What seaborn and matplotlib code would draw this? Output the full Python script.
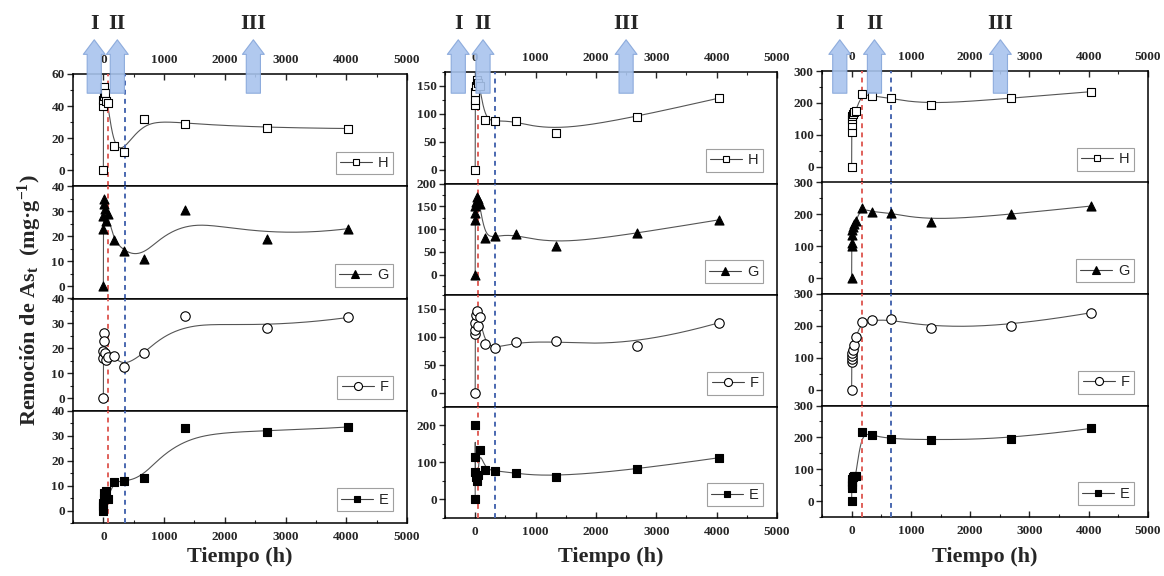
import numpy as np
import matplotlib
matplotlib.use("Agg")
import matplotlib.pyplot as plt
import matplotlib.transforms as mtransforms
from matplotlib.patches import FancyArrowPatch, ArrowStyle
from matplotlib.lines import Line2D
from matplotlib.ticker import MultipleLocator
import seaborn as sns

# ---------------- data ----------------
tiempo_h = [0, 1, 2, 4, 8, 24, 48, 72, 168, 336, 672, 1344, 2688, 4032]

# column 1
H1 = [0, 40, 44, 46, 52, 48, 43, 42, 15, 11.5, 32, 29, 26.5, 26]
G1 = [0, 23, 28, 35, 33, 31, 26, 29, 18.5, 14, 11, 30.5, 19, 23]
F1 = [0, 16, 19, 26, 23, 18, 15.5, 16.5, 17, 12.7, 18, 32.8, 28, 32.4]
E1 = [0, 2, 3, 5, 7, 6, 8, 4.5, 11.6, 11.8, 13.2, 33, 31.5, 33.5]
# column 2
H2 = [0, 115, 125, 140, 150, 160, 155, 150, 88.5, 87, 87, 66, 95, 128]
G2 = [0, 120, 135, 150, 160, 170, 165, 155, 81, 84, 89, 63, 91, 120]
F2 = [0, 105, 112, 125, 140, 146, 120, 135, 87, 79.5, 90, 92, 84, 125]
E2 = [0, 200, 115, 75, 60, 50, 65, 132, 80, 77, 70, 60, 81, 112]
# column 3
H3 = [0, 110, 130, 150, 160, 165, 172, 175, 228, 222, 214, 192, 215, 235]
G3 = [0, 100, 110, 135, 150, 160, 170, 180, 221, 207, 205, 177, 200, 226]
F3 = [0, 85, 95, 105, 115, 125, 140, 166, 211, 217, 220, 194, 199, 241]
E3 = [0, 40, 50, 60, 70, 75, 78, 80, 218, 206, 195, 192, 195, 228]

series_labels = ["H", "G", "F", "E"]
columns_data = [[H1, G1, F1, E1], [H2, G2, F2, E2], [H3, G3, F3, E3]]

# phase boundaries (h): red = end of stage I, blue = end of stage II
red_line_h = [72, 48, 168]
blue_line_h = [360, 336, 672]
# stage arrows (x in h)
stage_labels = ["I", "II", "III"]
stage_arrow_h = [[-150, 230, 2470], [-280, 130, 2500], [-200, 385, 2510]]

# ---------------- styling / layout ----------------
sns.set_style("ticks")
plt.rcParams["font.family"] = ["Liberation Serif", "DejaVu Serif"]
plt.rcParams["mathtext.fontset"] = "custom"
plt.rcParams["mathtext.rm"] = "Liberation Serif:bold"
plt.rcParams["mathtext.bf"] = "Liberation Serif:bold"
plt.rcParams["mathtext.it"] = "Liberation Serif:bold"

W, Hpx = 1164, 576
fig = plt.figure(figsize=(W / 100, Hpx / 100), dpi=100)
fig.patch.set_facecolor("white")

col_px = [(73, 334, 74, 523), (445, 332, 72, 518), (822, 326, 71, 517)]
ylims = [
    [(-10, 60, 20, 10), (-5, 40, 10, 5), (-5, 40, 10, 5), (-5, 40, 10, 5)],
    [(-25, 175, 50, 25), (-45, 200, 50, 25), (-25, 175, 50, 25), (-50, 250, 100, 50)],
    [(-50, 300, 100, 50), (-50, 300, 100, 50), (-50, 300, 100, 50), (-50, 300, 100, 50)],
]
marker_styles = [
    dict(marker="s", face="white", ms=5.5),
    dict(marker="^", face="black", ms=6.5),
    dict(marker="o", face="white", ms=6.8),
    dict(marker="s", face="black", ms=5.5),
]


def bspline(px, py, k=3, n=600):
    P = np.column_stack([px, py]).astype(float)
    N = len(P)
    inner = np.linspace(0, 1, N - k + 1)
    knots = np.concatenate([[0] * k, inner, [1] * k])
    u = np.linspace(0, 1, n)
    u[-1] -= 1e-9
    B = np.zeros((n, len(knots) - 1))
    for i in range(len(knots) - 1):
        B[:, i] = (knots[i] <= u) & (u < knots[i + 1])
    for d in range(1, k + 1):
        Bn = np.zeros((n, len(knots) - 1 - d))
        for i in range(len(knots) - 1 - d):
            a = knots[i + d] - knots[i]
            b = knots[i + d + 1] - knots[i + 1]
            term = np.zeros(n)
            if a > 0:
                term += (u - knots[i]) / a * B[:, i]
            if b > 0:
                term += (knots[i + d + 1] - u) / b * B[:, i + 1]
            Bn[:, i] = term
        B = Bn
    C = B @ P
    return C[:, 0], C[:, 1]


for c, (left, width, top, bottom) in enumerate(col_px):
    ph = (bottom - top) / 4.0
    axes = []
    for p in range(4):
        y_top = top + p * ph
        ax = fig.add_axes([left / W, 1 - (y_top + ph) / Hpx, width / W, ph / Hpx])
        axes.append(ax)
        vals = columns_data[c][p]
        ms = marker_styles[p]
        cx, cy = bspline(tiempo_h, vals)
        ax.plot(cx, cy, color="#555555", lw=0.8, zorder=2)
        sns.scatterplot(x=tiempo_h, y=vals, ax=ax, marker=ms["marker"], s=ms["ms"] ** 2 * 1.0,
                        color=ms["face"], edgecolor="black", linewidth=0.8, zorder=4, legend=False)
        ax.axvline(red_line_h[c], color="#e0605a", lw=1.4, ls=(0, (2.5, 2.2)), zorder=3)
        ax.axvline(blue_line_h[c], color="#4a68b0", lw=1.4, ls=(0, (2.5, 2.2)), zorder=3)
        ax.set_xlim(-500, 5000)
        lo, hi, maj, mnr = ylims[c][p]
        ax.set_ylim(lo, hi)
        ax.yaxis.set_major_locator(MultipleLocator(maj))
        ax.yaxis.set_minor_locator(MultipleLocator(mnr))
        ax.xaxis.set_major_locator(MultipleLocator(1000))
        ax.xaxis.set_minor_locator(MultipleLocator(500))
        ax.tick_params(axis="y", which="major", direction="out", length=4, width=1, pad=2)
        ax.tick_params(axis="y", which="minor", direction="out", length=2.5, width=0.8)
        if p == 0:
            ax.tick_params(axis="x", which="both", top=True, bottom=False, labeltop=True,
                           labelbottom=False, direction="in")
        elif p == 3:
            ax.tick_params(axis="x", which="both", top=False, bottom=True, labeltop=False,
                           labelbottom=True, direction="in")
        else:
            ax.tick_params(axis="x", which="both", top=False, bottom=False, labeltop=False,
                           labelbottom=False)
        ax.tick_params(axis="x", which="major", length=4, width=1, pad=6)
        ax.tick_params(axis="x", which="minor", length=2.5, width=0.8)
        for lab in ax.get_xticklabels() + ax.get_yticklabels():
            lab.set_fontfamily("Liberation Serif")
            lab.set_fontweight("bold")
            lab.set_fontsize(9.5)
        for s in ax.spines.values():
            s.set_linewidth(1.1)
            s.set_color("black")
        ax.set_xlabel("")
        ax.set_ylabel("")
        ax.set_facecolor("white")
        handle = Line2D([], [], color="#444444", lw=0.8, marker=ms["marker"], markersize=ms["ms"] * 0.85,
                        markerfacecolor=ms["face"], markeredgecolor="black", markeredgewidth=0.8)
        leg = ax.legend([handle], [series_labels[p]], loc="lower right",
                        bbox_to_anchor=(1 - 14 / width, 12 / ph), borderaxespad=0,
                        frameon=True, fancybox=False, handlelength=2.2, handletextpad=0.4,
                        borderpad=0.3, prop=dict(family="Liberation Sans", size=10.5))
        leg.get_frame().set_edgecolor("#888888")
        leg.get_frame().set_linewidth(0.8)

    # x label
    fig.text((left + width / 2) / W, 1 - 557 / Hpx, "Tiempo (h)", ha="center", va="center",
             fontsize=16, fontweight="bold", family="Liberation Serif")

    # stage arrows and labels
    trans = mtransforms.blended_transform_factory(axes[0].transData, fig.transFigure)
    for lab, xh in zip(stage_labels, stage_arrow_h[c]):
        arr = FancyArrowPatch((xh, 1 - 96 / Hpx), (xh, 1 - 37 / Hpx), transform=trans,
                              arrowstyle=ArrowStyle.Simple(head_length=0.7, head_width=1.05, tail_width=0.68),
                              mutation_scale=15, facecolor="#a9c4ee", edgecolor="#86a6da", lw=0.8,
                              alpha=0.9, zorder=10, clip_on=False)
        fig.add_artist(arr)
        fig.text(xh, 1 - 24 / Hpx, lab, transform=trans, ha="center", va="center",
                 fontsize=16, fontweight="bold", family="Liberation Serif")

fig.text(30 / W, 1 - 300 / Hpx, r"Remoción de As$_{\mathbf{t}}$  (mg·g$^{\mathbf{-1}}$)",
         rotation=90, ha="center", va="center", fontsize=16, fontweight="bold",
         family="Liberation Serif")

fig.savefig("out.png", dpi=100, facecolor="white")
